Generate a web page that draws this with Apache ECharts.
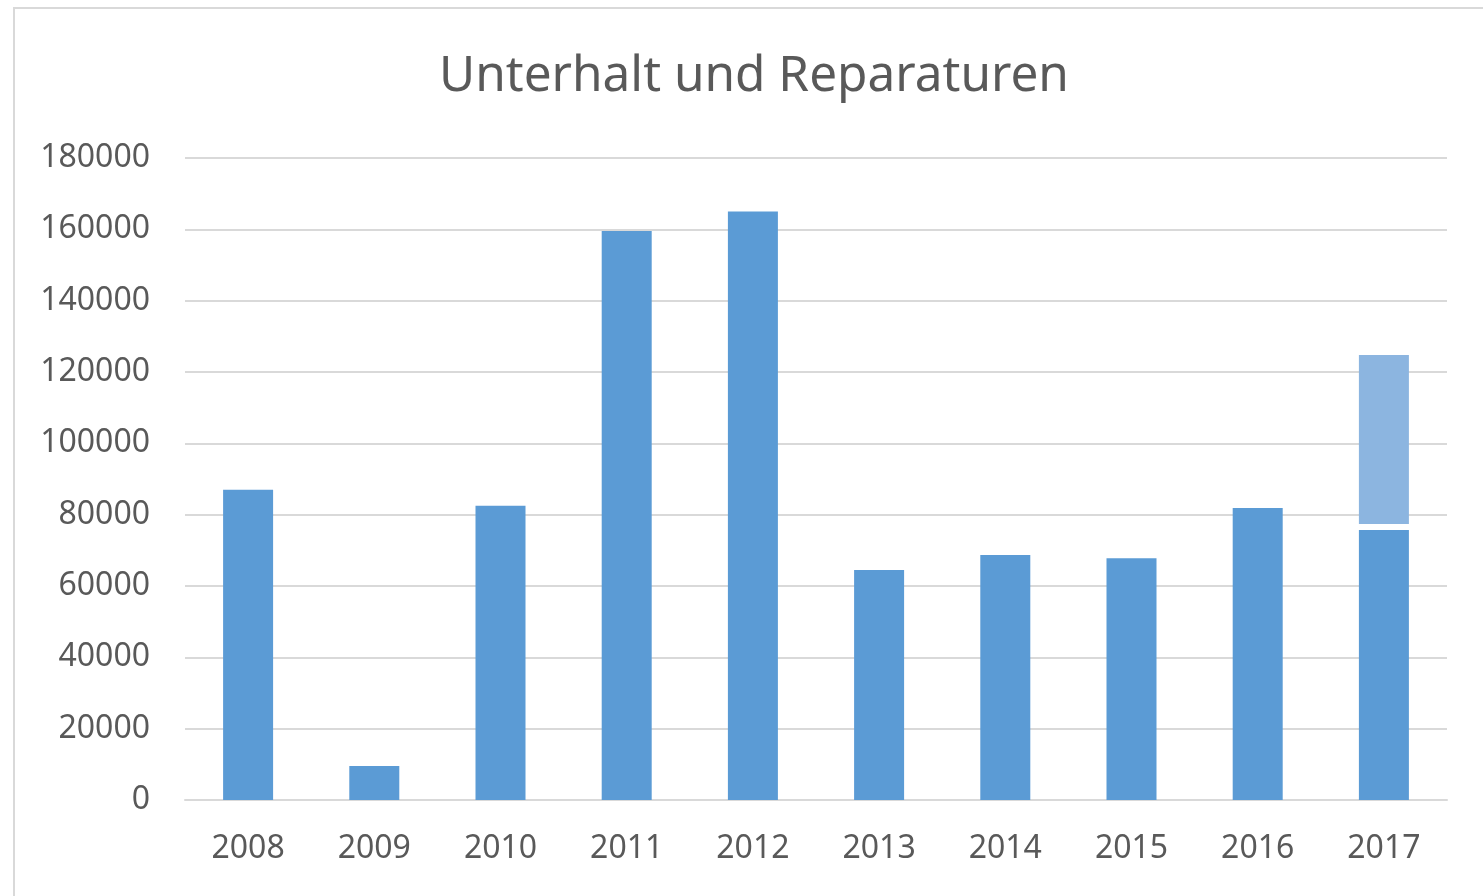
<!DOCTYPE html>
<html>
<head>
<meta charset="utf-8">
<title>Unterhalt und Reparaturen</title>
<script src="https://cdn.jsdelivr.net/npm/echarts@6/dist/echarts.min.js"></script>
<style>
  html, body { margin: 0; padding: 0; background: #fff; }
  #frame {
    position: absolute; left: 13px; top: 7px; right: 0; bottom: 0;
    border-left: 2px solid #d9d9d9; border-top: 2px solid #d9d9d9;
  }
  #chart { position: absolute; left: 0; top: 0; width: 1483px; height: 896px; }
</style>
</head>
<body>
<div id="frame"></div>
<div id="chart"></div>
<script>
// Jahre und Werte
const years = ['2008', '2009', '2010', '2011', '2012', '2013', '2014', '2015', '2016', '2017'];
const kosten = [87000, 9500, 82500, 159500, 165000, 64500, 68700, 67800, 81900, 75700];
// 2017: weisser Spalt und hellerer oberer Teil
const spalt = [null, null, null, null, null, null, null, null, null, 1700];
const prognose = [null, null, null, null, null, null, null, null, null, 47400];
const yTicks = { min: 0, max: 180000, interval: 20000 };

const textColor = '#595959';
const fontFam = '"Noto Sans", "Open Sans", sans-serif';

let myChart = echarts.init(document.getElementById('chart'), null, { renderer: 'canvas' });
myChart.setOption({
    animation: false,
    title: {
        text: 'Unterhalt und Reparaturen',
        left: 434,
        top: 47,
        textStyle: { color: textColor, fontSize: 49.5, fontWeight: 'normal', fontFamily: fontFam }
    },
    grid: { left: 185, right: 36, top: 158, bottom: 96 },
    xAxis: {
        type: 'category',
        data: years,
        axisLine: { lineStyle: { color: '#d9d9d9', width: 2 } },
        axisTick: { show: false },
        axisLabel: { color: textColor, fontSize: 32, fontFamily: fontFam, margin: 33 }
    },
    yAxis: {
        type: 'value',
        min: yTicks.min,
        max: yTicks.max,
        interval: yTicks.interval,
        axisLine: { show: false },
        axisTick: { show: false },
        splitLine: { lineStyle: { color: '#d9d9d9', width: 2 } },
        axisLabel: {
            color: textColor, fontSize: 32, fontFamily: fontFam, margin: 35,
            formatter: v => String(v)
        }
    },
    series: [
        {
            name: 'Kosten', type: 'bar', stack: 'a',
            barWidth: 50,
            itemStyle: { color: '#5b9bd5' },
            data: kosten
        },
        {
            name: 'Spalt', type: 'bar', stack: 'a',
            itemStyle: { color: '#ffffff' },
            data: spalt
        },
        {
            name: 'Prognose', type: 'bar', stack: 'a',
            itemStyle: { color: '#8cb5e0' },
            data: prognose
        }
    ]
});
</script>
</body>
</html>
